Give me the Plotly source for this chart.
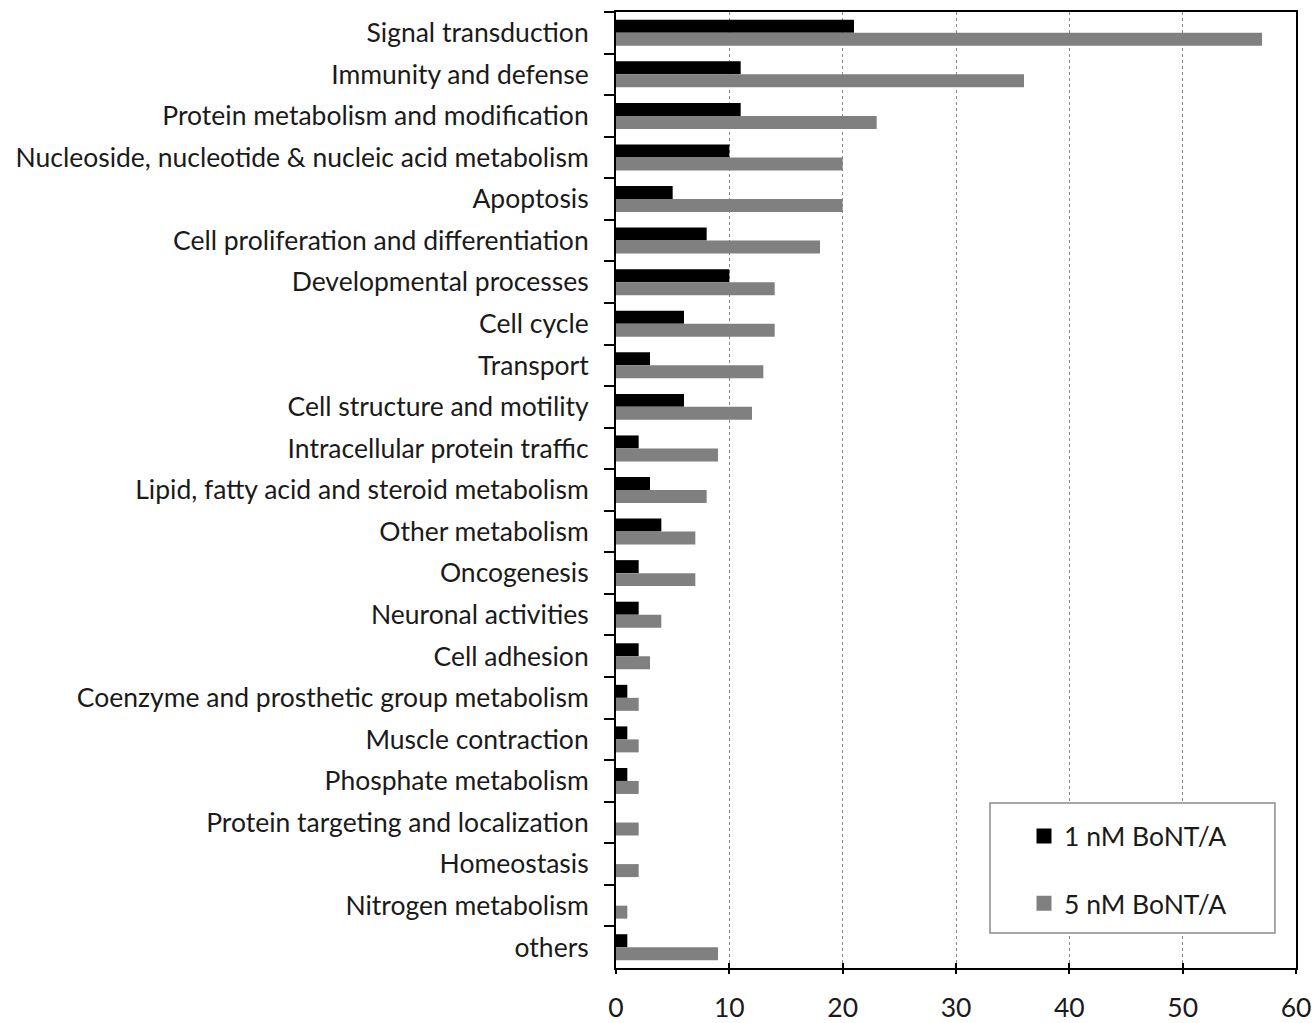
import plotly.graph_objects as go

# Functional categories (top to bottom) and gene counts per treatment
categories = [
    "Signal transduction",
    "Immunity and defense",
    "Protein metabolism and modification",
    "Nucleoside, nucleotide & nucleic acid metabolism",
    "Apoptosis",
    "Cell proliferation and differentiation",
    "Developmental processes",
    "Cell cycle",
    "Transport",
    "Cell structure and motility",
    "Intracellular protein traffic",
    "Lipid, fatty acid and steroid metabolism",
    "Other metabolism",
    "Oncogenesis",
    "Neuronal activities",
    "Cell adhesion",
    "Coenzyme and prosthetic group metabolism",
    "Muscle contraction",
    "Phosphate metabolism",
    "Protein targeting and localization",
    "Homeostasis",
    "Nitrogen metabolism",
    "others",
]
bont_1nM = [21, 11, 11, 10, 5, 8, 10, 6, 3, 6, 2, 3, 4, 2, 2, 2, 1, 1, 1, 0, 0, 0, 1]
bont_5nM = [57, 36, 23, 20, 20, 18, 14, 14, 13, 12, 9, 8, 7, 7, 4, 3, 2, 2, 2, 2, 2, 1, 9]
series_names = ["1 nM BoNT/A", "5 nM BoNT/A"]
series_colors = ["#000000", "#808080"]
x_ticks = [0, 10, 20, 30, 40, 50, 60]

FONT = "Lato"
SIZE = 26.5
TEXT = "#1a1a1a"

fig = go.Figure()
for vals, name, col in zip([bont_1nM, bont_5nM], series_names, series_colors):
    fig.add_trace(go.Bar(
        y=categories, x=vals, orientation="h", name=name,
        marker=dict(color=col, line=dict(width=0)),
        showlegend=False,
    ))

# legend entries with larger square swatches
for i, (name, col) in enumerate(zip(series_names, series_colors)):
    fig.add_trace(go.Scatter(
        x=[None], y=[None], mode="markers", name=name,
        marker=dict(symbol="square", size=15, color=col),
        legendgroup=f"g{i}", showlegend=True,
    ))

# invisible helper trace on a twin axis, to draw outward x ticks as well
fig.add_trace(go.Scatter(x=[None], y=[None], xaxis="x2", showlegend=False, hoverinfo="skip"))

fig.update_layout(
    width=1314, height=1023,
    margin=dict(l=616, r=18, t=12, b=55, autoexpand=False),
    paper_bgcolor="white", plot_bgcolor="white",
    barmode="group", bargap=0.375, bargroupgap=0,
    font=dict(family=FONT, size=SIZE, color=TEXT),
    showlegend=True,
    legend=dict(
        x=0.6, y=0.163, xanchor="left", yanchor="top",
        bgcolor="rgba(0,0,0,0)", borderwidth=0,
        font=dict(family=FONT, size=SIZE, color=TEXT),
        traceorder="grouped", tracegroupgap=30,
        itemsizing="trace",
    ),
    xaxis=dict(
        range=[0, 60], tickvals=x_ticks, ticktext=[str(v) for v in x_ticks],
        showgrid=True, gridcolor="#8a8a8a", griddash="dot", gridwidth=1,
        showline=True, linecolor="#000000", linewidth=2, mirror=True,
        ticks="inside", ticklen=5, tickwidth=2, tickcolor="#000000",
        zeroline=False, ticklabelstandoff=15, automargin=False,
        tickfont=dict(family=FONT, size=SIZE, color=TEXT),
    ),
    xaxis2=dict(
        range=[0, 60], tickvals=x_ticks, overlaying="x", side="bottom",
        showticklabels=False, showgrid=False, showline=False, zeroline=False,
        ticks="outside", ticklen=5, tickwidth=2, tickcolor="#000000",
        automargin=False,
    ),
    yaxis=dict(
        autorange="reversed", categoryorder="array", categoryarray=categories,
        showline=True, linecolor="#000000", linewidth=2, mirror=True,
        ticks="outside", ticklen=10, tickwidth=2, tickcolor="#000000",
        tickson="boundaries", showgrid=False, zeroline=False,
        ticklabelstandoff=20, automargin=False,
        tickfont=dict(family=FONT, size=SIZE, color=TEXT),
    ),
    shapes=[
        dict(type="rect", xref="paper", yref="paper",
             x0=0.55, x1=0.969, y0=0.0366, y1=0.1726,
             line=dict(color="#8c8c8c", width=1.5), fillcolor="white", layer="above"),
    ],
)

fig.write_html("out.html")
